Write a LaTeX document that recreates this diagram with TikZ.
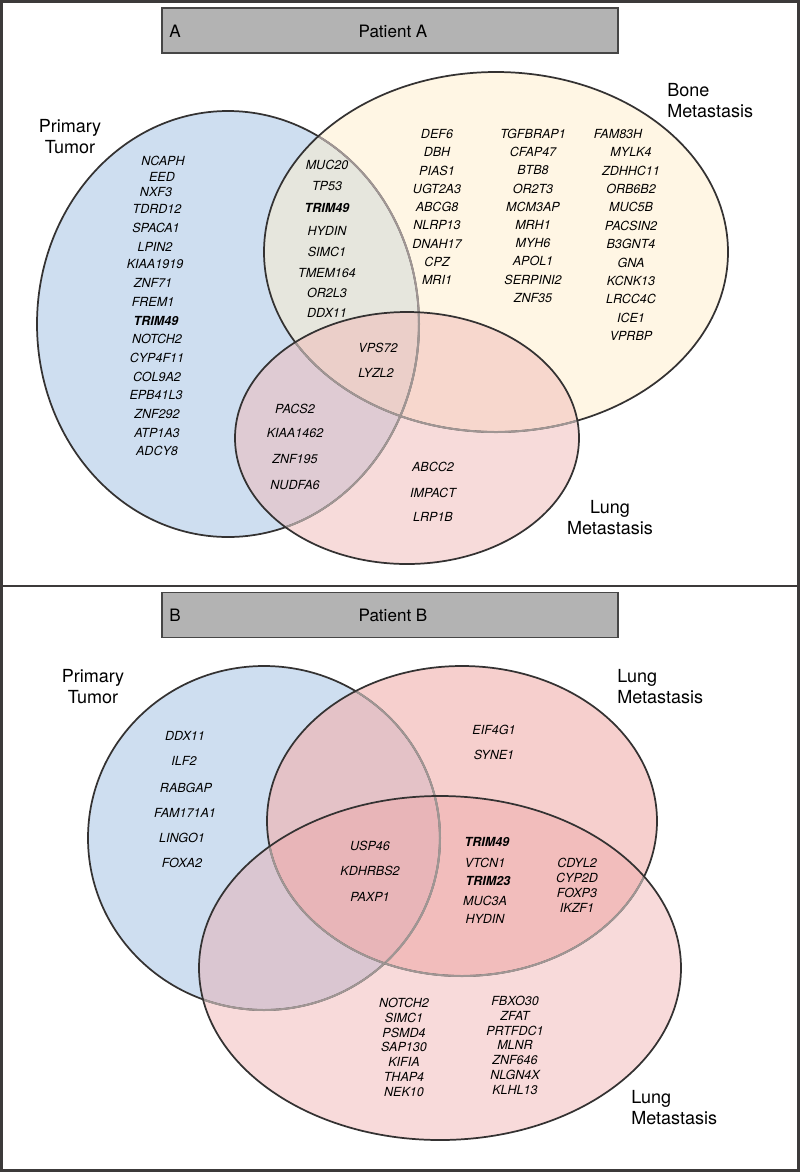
\documentclass[tikz,border=0pt]{standalone}
\usepackage{fontspec}
\setmainfont{TeX Gyre Heros}
\definecolor{blueF}{RGB}{206,222,240}
\definecolor{yelF}{RGB}{255,239,203}
\definecolor{pinkA}{RGB}{241,185,183}
\definecolor{upB}{RGB}{242,178,175}
\definecolor{lowB}{RGB}{238,163,163}
\definecolor{edgeC}{RGB}{52,50,50}
\definecolor{fadeC}{RGB}{160,150,148}
\definecolor{barF}{RGB}{179,179,179}
\definecolor{barE}{RGB}{70,70,70}
\definecolor{frameC}{RGB}{60,58,58}
\def\ellBlueA{(228,324) ellipse [x radius=191, y radius=213]}
\def\ellYelA{(496,252) ellipse [x radius=232, y radius=180]}
\def\ellPinkA{(407,438) ellipse [x radius=172, y radius=126]}
\def\ellBlueB{(264,838) ellipse [x radius=176, y radius=172]}
\def\ellUpB{(462,821) ellipse [x radius=195, y radius=155]}
\def\ellLowB{(440,968) ellipse [x radius=241, y radius=172]}
\tikzset{
  edge/.style={draw=edgeC, line width=1.3pt},
  faded/.style={draw=fadeC, line width=1.5pt},
  gene/.style={font=\fontsize{9.4}{11}\selectfont\itshape, inner sep=0pt},
  lbl/.style={font=\fontsize{13.5}{15.75}\selectfont, inner sep=0pt},
  titlebar/.style={draw=barE, fill=barF, line width=1.1pt, minimum width=342pt, minimum height=34pt, inner sep=0pt},
  ttl/.style={font=\fontsize{12.8}{14}\selectfont, inner sep=0pt}
}
\begin{document}
\begin{tikzpicture}[x=0.75pt,y=-0.75pt]
\useasboundingbox (0,0) rectangle (800,1172);
\fill[white] (0,0) rectangle (800,1172);
% ---------- Panel A ----------
\fill[blueF] \ellBlueA;
\fill[yelF, fill opacity=0.5] \ellYelA;
\fill[pinkA, fill opacity=0.5] \ellPinkA;
\draw[edge] \ellBlueA;
\begin{scope}\clip \ellYelA; \draw[faded] \ellBlueA; \end{scope}
\begin{scope}\clip \ellPinkA; \draw[faded] \ellBlueA; \end{scope}
\draw[edge] \ellYelA;
\begin{scope}\clip \ellPinkA; \draw[faded] \ellYelA; \end{scope}
\draw[edge] \ellPinkA;
% ---------- Panel B ----------
\fill[blueF] \ellBlueB;
\fill[upB, fill opacity=0.62] \ellUpB;
\fill[lowB, fill opacity=0.4] \ellLowB;
\draw[edge] \ellBlueB;
\begin{scope}\clip \ellUpB; \draw[faded] \ellBlueB; \end{scope}
\begin{scope}\clip \ellLowB; \draw[faded] \ellBlueB; \end{scope}
\draw[edge] \ellUpB;
\begin{scope}\clip \ellLowB; \draw[faded] \ellUpB; \end{scope}
\draw[edge] \ellLowB;
% ---------- frames ----------
\draw[frameC, line width=1.6pt] (1.5,1.5) rectangle (798.5,1170.5);
\draw[frameC, line width=1.6pt] (1.5,586) -- (798.5,586);
% ---------- title bars ----------
\node[titlebar] (barA) at (390,30.5) {};
\node[ttl, anchor=west] (letA) at (169,31) {A};
\node[ttl] (titA) at (393,31) {Patient A};
\node[titlebar] (barB) at (390,615) {};
\node[ttl, anchor=west] (letB) at (169,615) {B};
\node[ttl] (titB) at (393,615) {Patient B};
% ---------- set labels ----------
\node[lbl, align=center] (ptA) at (70,136.5) {Primary\\Tumor};
\node[lbl, align=left, anchor=west] (bmA) at (667,100.5) {Bone\\Metastasis};
\node[lbl, align=center] (lmA) at (610,517.5) {Lung\\Metastasis};
\node[lbl, align=center] (ptB) at (93,687) {Primary\\Tumor};
\node[lbl, align=left, anchor=west] (lm1B) at (617,687) {Lung\\Metastasis};
\node[lbl, align=left, anchor=west] (lm2B) at (631,1107.5) {Lung\\Metastasis};
% ---------- genes A ----------
\foreach \g/\xx/\yy [count=\i] in {NCAPH/163/161, EED/162/177, NXF3/156/192, TDRD12/157/209,
  SPACA1/156/228, LPIN2/155/247, KIAA1919/155/264, ZNF71/153/283, FREM1/153/302,
  \textbf{TRIM49}/156/321, NOTCH2/157/339, CYP4F11/157/358, COL9A2/157/377,
  EPB41L3/156/395, ZNF292/157/414, ATP1A3/157/433, ADCY8/157/451}
  \node[gene] (pa-\i) at (\xx,\yy) {\g};
\foreach \g/\yy [count=\i] in {MUC20/165, TP53/186, \textbf{TRIM49}/208, HYDIN/231,
  SIMC1/252, TMEM164/273, OR2L3/293, DDX11/313}
  \node[gene] (pb-\i) at (327,\yy) {\g};
\foreach \g [count=\i] in {DEF6, DBH, PIAS1, UGT2A3, ABCG8, NLRP13, DNAH17, CPZ, MRI1}
  \node[gene] (bc1-\i) at (437,{134+(\i-1)*18.3}) {\g};
\foreach \g [count=\i] in {TGFBRAP1, CFAP47, BTB8, OR2T3, MCM3AP, MRH1, MYH6, APOL1, SERPINI2, ZNF35}
  \node[gene] (bc2-\i) at (533,{134+(\i-1)*18.2}) {\g};
\node[gene] (bc3-1) at (618,134) {FAM83H};
\foreach \g [count=\i from 2] in {MYLK4, ZDHHC11, ORB6B2, MUC5B, PACSIN2, B3GNT4, GNA, KCNK13, LRCC4C, ICE1, VPRBP}
  \node[gene] (bc3-\i) at (631,{134+(\i-1)*18.35}) {\g};
\node[gene] (tr-1) at (378,348) {VPS72};
\node[gene] (tr-2) at (376,373) {LYZL2};
\foreach \g/\yy [count=\i] in {PACS2/409, KIAA1462/433, ZNF195/459, NUDFA6/485}
  \node[gene] (pl-\i) at (295,\yy) {\g};
\foreach \g/\yy [count=\i] in {ABCC2/467, IMPACT/493, LRP1B/517}
  \node[gene] (lo-\i) at (433,\yy) {\g};
% ---------- genes B ----------
\foreach \g/\xx/\yy [count=\i] in {DDX11/185/736, ILF2/184/761, RABGAP/186/788,
  FAM171A1/185/813, LINGO1/182/838, FOXA2/182/863}
  \node[gene] (qb-\i) at (\xx,\yy) {\g};
\foreach \g/\yy [count=\i] in {USP46/846, KDHRBS2/871, PAXP1/897}
  \node[gene] (qt-\i) at (370,\yy) {\g};
\node[gene] (qu-1) at (494,730) {EIF4G1};
\node[gene] (qu-2) at (494,755) {SYNE1};
\foreach \g/\xx/\yy [count=\i] in {\textbf{TRIM49}/487/842, VTCN1/485/863, \textbf{TRIM23}/488/881,
  MUC3A/485/901, HYDIN/485/919}
  \node[gene] (qi-\i) at (\xx,\yy) {\g};
\foreach \g/\yy [count=\i] in {CDYL2/863, CYP2D/878, FOXP3/893, IKZF1/908}
  \node[gene] (qr-\i) at (577,\yy) {\g};
\foreach \g [count=\i] in {NOTCH2, SIMC1, PSMD4, SAP130, KIFIA, THAP4, NEK10}
  \node[gene] (ql1-\i) at (404,{1003+(\i-1)*14.8}) {\g};
\foreach \g [count=\i] in {FBXO30, ZFAT, PRTFDC1, MLNR, ZNF646, NLGN4X, KLHL13}
  \node[gene] (ql2-\i) at (515,{1001+(\i-1)*14.8}) {\g};
\end{tikzpicture}
\end{document}
